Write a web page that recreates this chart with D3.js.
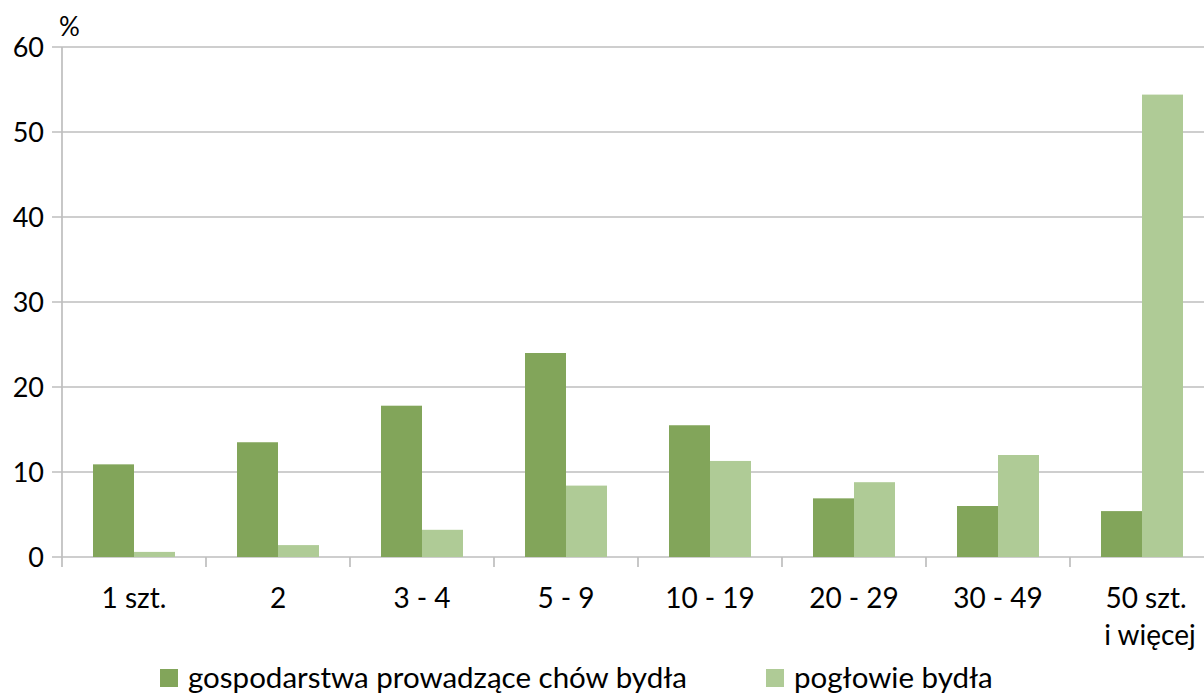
<!DOCTYPE html>
<html>
<head>
<meta charset="utf-8">
<script src="https://cdn.jsdelivr.net/npm/d3@7"></script>
<style>
  body { margin: 0; background: #fff; overflow: hidden; }
  svg { display: block; font-family: Lato, "Open Sans", sans-serif; }
</style>
</head>
<body>
<div id="chart"></div>
<script>
const categories = ["1 szt.", "2", "3 - 4", "5 - 9", "10 - 19", "20 - 29", "30 - 49", "50 szt.\ni więcej"];
const seriesNames = ["gospodarstwa prowadzące chów bydła", "pogłowie bydła"];
const farms = [10.9, 13.5, 17.8, 24.0, 15.5, 6.9, 6.0, 5.4];
const herd = [0.6, 1.4, 3.2, 8.4, 11.3, 8.8, 12.0, 54.4];
const yTicks = [0, 10, 20, 30, 40, 50, 60];
const colors = ["#82a55a", "#afcb96"];

function barChart() {
  const width = 1204, height = 695;
  const left = 62, top = 47, plotW = 144 * 8, plotH = 510;

  const svg = d3.select("#chart").append("svg")
    .attr("width", width)
    .attr("height", height);

  const x = d3.scaleBand().domain(categories).range([left, left + plotW]);
  const y = d3.scaleLinear().domain([0, 60]).range([top + plotH, top]);
  const inner = d3.scaleBand().domain([0, 1]).range([31, 113]);

  // gridlines + y ticks
  svg.append("g")
    .selectAll("line")
    .data(yTicks)
    .enter().append("line")
    .attr("x1", left - 10)
    .attr("x2", left + plotW)
    .attr("y1", d => y(d))
    .attr("y2", d => y(d))
    .attr("stroke", "#bebebe")
    .attr("stroke-width", 1.7);

  svg.append("g")
    .selectAll("text")
    .data(yTicks)
    .enter().append("text")
    .attr("x", 44)
    .attr("y", d => y(d) + 10)
    .attr("text-anchor", "end")
    .attr("font-size", "27px")
    .attr("fill", "#000")
    .text(d => d);

  svg.append("text")
    .attr("x", 59)
    .attr("y", 36)
    .attr("font-size", "26px")
    .text("%");

  // bars
  const rows = categories.map((c, i) => [farms[i], herd[i]]);
  const groups = svg.append("g")
    .selectAll("g")
    .data(rows)
    .enter().append("g")
    .attr("transform", (d, i) => "translate(" + x(categories[i]) + ",0)");

  groups.selectAll("rect")
    .data(d => d)
    .enter().append("rect")
    .attr("x", (d, j) => inner(j))
    .attr("width", inner.bandwidth())
    .attr("y", d => y(d))
    .attr("height", d => y(0) - y(d))
    .attr("fill", (d, j) => colors[j]);

  // axes lines
  svg.append("line")
    .attr("x1", left).attr("x2", left)
    .attr("y1", top).attr("y2", top + plotH + 10)
    .attr("stroke", "#bebebe").attr("stroke-width", 1.7);

  svg.append("g")
    .selectAll("line")
    .data(categories.slice(1))
    .enter().append("line")
    .attr("x1", d => x(d)).attr("x2", d => x(d))
    .attr("y1", y(0)).attr("y2", y(0) + 10)
    .attr("stroke", "#bebebe").attr("stroke-width", 1.7);

  // category labels
  const labels = svg.append("g")
    .selectAll("text")
    .data(categories)
    .enter().append("text")
    .attr("y", 608)
    .attr("text-anchor", "middle")
    .attr("font-size", "28px")
    .attr("fill", "#000");

  labels.each(function (d) {
    const parts = d.split("\n");
    const cx = x(d) + x.bandwidth() / 2;
    d3.select(this).selectAll("tspan")
      .data(parts)
      .enter().append("tspan")
      .attr("x", (p, k) => parts.length > 1 ? cx + 4 + k * 4 : cx)
      .attr("dy", (p, k) => k === 0 ? 0 : 37)
      .text(p => p);
  });

  // legend
  const legendX = [160, 766];
  const legend = svg.append("g")
    .selectAll("g")
    .data(seriesNames)
    .enter().append("g")
    .attr("transform", (d, i) => "translate(" + legendX[i] + ",669)");

  legend.append("rect")
    .attr("width", 18)
    .attr("height", 18)
    .attr("fill", (d, i) => colors[i]);

  legend.append("text")
    .attr("x", 28)
    .attr("y", 19)
    .attr("font-size", "29.5px")
    .attr("fill", "#000")
    .text(d => d);
}

barChart();
</script>
</body>
</html>
